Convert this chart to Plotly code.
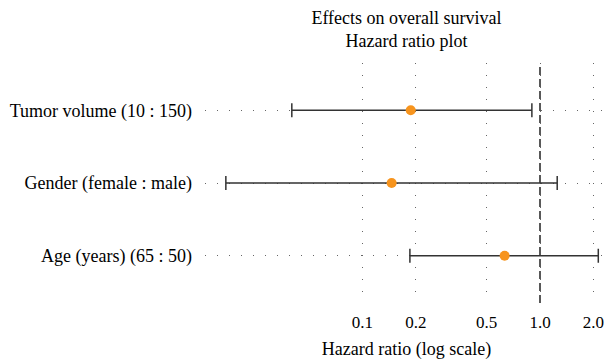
import plotly.graph_objects as go

# Data
labels = ["Tumor volume (10 : 150)", "Gender (female : male)", "Age (years) (65 : 50)"]
hr = [0.187, 0.146, 0.632]
ci_low = [0.040, 0.017, 0.185]
ci_high = [0.90, 1.25, 2.13]
tick_vals = [0.1, 0.2, 0.5, 1.0, 2.0]
tick_text = ["0.1", "0.2", "0.5", "1.0", "2.0"]
ref_hr = 1.0

FONT = "Liberation Serif"

fig = go.Figure()
fig.add_trace(go.Scatter(
    x=hr, y=labels, mode="markers",
    marker=dict(color="#F7941D", size=10),
    error_x=dict(type="data", symmetric=False,
                 array=[h - m for h, m in zip(ci_high, hr)],
                 arrayminus=[m - l for m, l in zip(hr, ci_low)],
                 color="#333333", thickness=1.5, width=7),
    showlegend=False, cliponaxis=False,
))

fig.add_shape(type="line", xref="x", yref="paper", x0=ref_hr, x1=ref_hr, y0=0, y1=1,
              line=dict(color="black", width=1.3, dash="8px,4px"), layer="below")

fig.update_layout(
    width=604, height=352,
    margin=dict(l=197, r=4, t=55, b=57),
    paper_bgcolor="white", plot_bgcolor="white",
    font=dict(family=FONT, size=18, color="black"),
    title=dict(text="Effects on overall survival<br>Hazard ratio plot",
               x=0.5, xref="paper", xanchor="center",
               y=0.955, yref="container", yanchor="top",
               font=dict(family=FONT, size=18, color="black")),
    xaxis=dict(type="log", range=[-1.887, 0.383],
               tickvals=tick_vals, ticktext=tick_text,
               showgrid=True, gridcolor="#666", gridwidth=1, griddash="1px,11px",
               zeroline=False, showline=False, ticks="", automargin=False,
               ticklabelstandoff=7,
               title=dict(text="Hazard ratio (log scale)", standoff=12,
                          font=dict(family=FONT, size=18)),
               tickfont=dict(family=FONT, size=17)),
    yaxis=dict(type="category", categoryorder="array", categoryarray=labels,
               autorange=False, range=[2.65, -0.65], automargin=False,
               showgrid=True, gridcolor="#666", gridwidth=1, griddash="1px,11px",
               zeroline=False, showline=False, ticks="", ticklabelstandoff=12,
               tickfont=dict(family=FONT, size=18)),
)

fig.write_html("out.html")
